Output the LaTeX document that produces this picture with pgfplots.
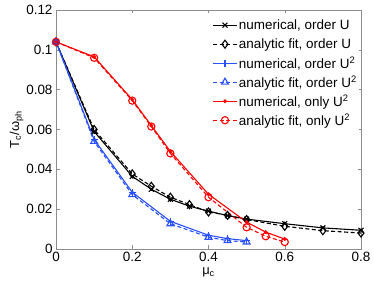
\documentclass[border=0pt]{standalone}
\usepackage{fontspec}
\setmainfont{Liberation Sans}
\usepackage{pgfplots}
\pgfplotsset{compat=1.18}
\definecolor{mblue}{RGB}{40,80,255}
\definecolor{mred}{RGB}{255,0,0}
\begin{document}
\begin{tikzpicture}
\path[use as bounding box] (-56bp,-38bp) rectangle (318bp,249bp);
\begin{axis}[
  scale only axis, width=305bp, height=239bp,
  xmin=0, xmax=0.8, ymin=0, ymax=0.12,
  xtick={0,0.2,0.4,0.6,0.8}, ytick={0,0.02,0.04,0.06,0.08,0.1,0.12},
  yticklabels={0,0.02,0.04,0.06,0.08,0.1,0.12},
  xticklabels={0,0.2,0.4,0.6,0.8},
  tick align=inside, major tick length=3.5bp,
  axis line style={draw=gray!90},
  every tick/.style={draw=gray!90, thin},
  tick label style={font=\fontsize{13.5}{15}\selectfont, text=black},
  xlabel={μ\textsubscript{c}}, ylabel={T\textsubscript{c}/ω\textsubscript{ph}},
  label style={font=\fontsize{13}{15}\selectfont},
  xlabel style={yshift=1bp},
  ylabel style={yshift=-4bp},
  legend style={at={(1,1)}, anchor=north east, draw=none, fill=white,
    font=\fontsize{13.5}{15}\selectfont, inner sep=0.5bp,
    xshift=-2bp, yshift=-5bp,
    nodes={inner sep=1.5bp, minimum height=19bp}},
  legend cell align=left,
  legend image code/.code={\draw[mark repeat=2,mark phase=2,#1] plot coordinates {(0cm,0cm) (0.42cm,0cm) (0.84cm,0cm)};},
  every axis plot/.append style={line width=1.1bp},
  mark options={solid},
]
\addplot[black, mark=x, mark size=3.5bp] coordinates {(0,0.104)(0.1,0.059)(0.2,0.0365)(0.25,0.030)(0.3,0.025)(0.35,0.0215)(0.4,0.019)(0.45,0.0168)(0.5,0.015)(0.6,0.0127)(0.7,0.0106)(0.8,0.0094)};
\addlegendentry{numerical, order U}
\addplot[black, dash pattern=on 4bp off 2.5bp, mark=diamond, mark size=4bp] coordinates {(0,0.104)(0.1,0.060)(0.2,0.0377)(0.25,0.0315)(0.3,0.026)(0.35,0.0223)(0.4,0.0186)(0.45,0.0169)(0.5,0.0148)(0.6,0.0114)(0.7,0.0092)(0.8,0.0080)};
\addlegendentry{analytic fit, order U}
\addplot[mblue, mark=+, mark size=3.5bp] coordinates {(0,0.104)(0.1,0.055)(0.2,0.0285)(0.3,0.0139)(0.4,0.0069)(0.45,0.0052)(0.5,0.0042)};
\addlegendentry{numerical, order U\textsuperscript{2}}
\addplot[mblue, dash pattern=on 4bp off 2.5bp, mark=triangle, mark size=4bp] coordinates {(0,0.104)(0.1,0.054)(0.2,0.0273)(0.3,0.0127)(0.4,0.0059)(0.45,0.0042)(0.5,0.0035)};
\addlegendentry{analytic fit, order U\textsuperscript{2}}
\addplot[mred, mark=*, mark size=1.3bp] coordinates {(0,0.104)(0.1,0.0965)(0.2,0.075)(0.25,0.062)(0.3,0.049)(0.4,0.0275)(0.5,0.0135)(0.55,0.0085)(0.6,0.005)};
\addlegendentry{numerical, only U\textsuperscript{2}}
\addplot[mred, dash pattern=on 4bp off 2.5bp, mark=o, mark size=3.6bp] coordinates {(0,0.104)(0.1,0.096)(0.2,0.0745)(0.25,0.0615)(0.3,0.048)(0.4,0.026)(0.5,0.0109)(0.55,0.0064)(0.6,0.0035)};
\addlegendentry{analytic fit, only U\textsuperscript{2}}
\end{axis}
\end{tikzpicture}
\end{document}
